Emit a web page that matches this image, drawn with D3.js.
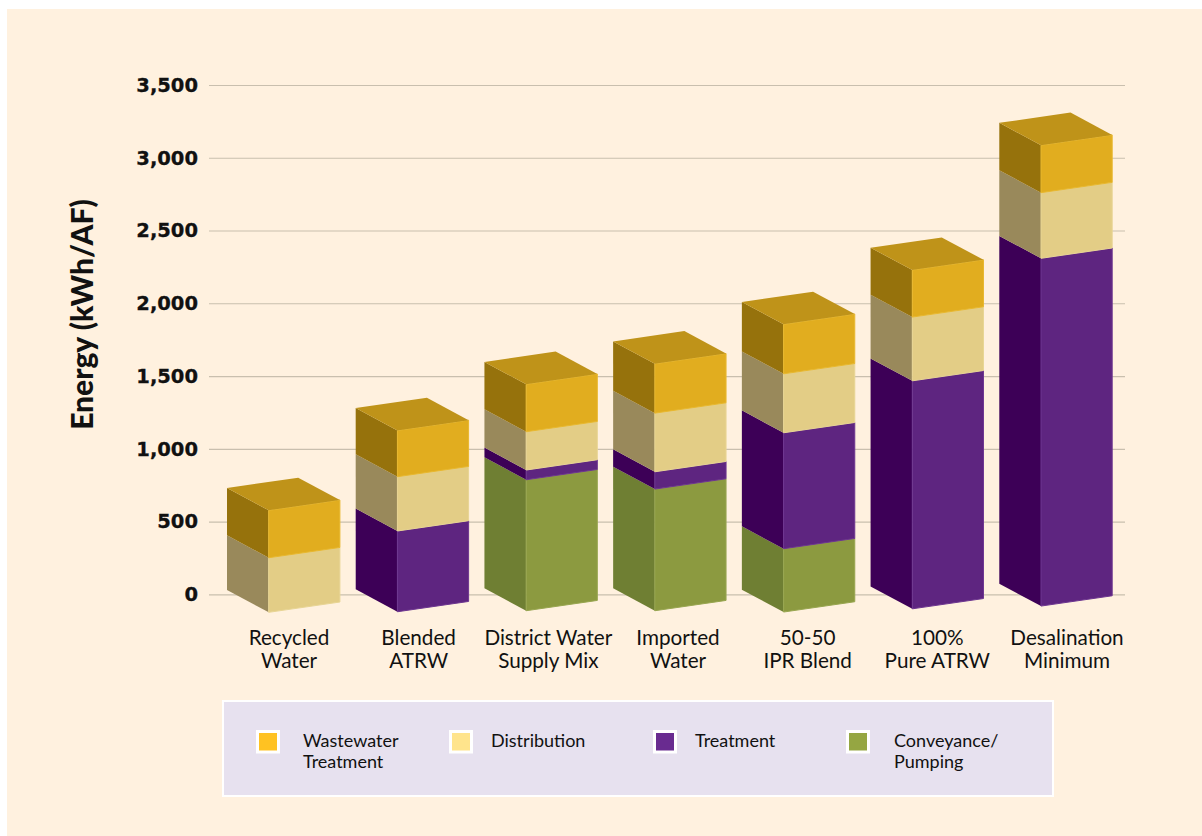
<!DOCTYPE html>
<html lang="en">
<head>
	<title>Energy by water supply</title>
	<script src="https://d3js.org/d3.v7.min.js" charset="utf-8"></script>
	<style>
		html, body { margin: 0; padding: 0; background: #fff; }
		svg { display: block; }
		.tick text { font-family: "DejaVu Sans", sans-serif; font-weight: bold; font-size: 19.5px; fill: #111; stroke: #111; stroke-width: 0.3px; }
		.tick line { stroke: #c9bfae; stroke-width: 1.2px; }
		.label { font-family: Lato, sans-serif; font-size: 20.7px; fill: #111; }
		.legend-label { font-family: Lato, sans-serif; font-size: 18px; fill: #111; }
	</style>
</head>
<body>
	<script>

	var width = 1202,
		height = 836;

	// values, kWh/AF
	var categories = ["Recycled Water", "Blended ATRW", "District Water Supply Mix", "Imported Water", "50-50 IPR Blend", "100% Pure ATRW", "Desalination Minimum"];
	var categoryLines = [["Recycled", "Water"], ["Blended", "ATRW"], ["District Water", "Supply Mix"], ["Imported", "Water"], ["50-50", "IPR Blend"], ["100%", "Pure ATRW"], ["Desalination", "Minimum"]];
	var conveyance = [0, 0, 900, 836, 435, 0, 0];
	var treatment = [0, 555, 67, 119, 797, 1567, 2390];
	var distribution = [375, 373, 263, 403, 405, 438, 451];
	var wastewater = [326, 318, 326, 339, 340, 323, 326];
	// where the back edge of each column starts, it does not sit exactly on zero
	var baseValues = [30, 34, 41, 41, 32, 54, 73];
	var yTicks = [0, 500, 1000, 1500, 2000, 2500, 3000, 3500];

	var seriesKeys = ["Conveyance", "Treatment", "Distribution", "Wastewater"];
	var legendKeys = ["Wastewater", "Distribution", "Treatment", "Conveyance"];
	var legendLines = [["Wastewater", "Treatment"], ["Distribution"], ["Treatment"], ["Conveyance/", "Pumping"]];

	var frontColor = d3.scaleOrdinal().domain(seriesKeys).range(["#8c9a40", "#5e2580", "#e3cd86", "#e1ad1f"]);
	var edgeColor = d3.scaleOrdinal().domain(seriesKeys).range(["#98a650", "#6d3690", "#e8d594", "#e8b82f"]);
	var sideColor = d3.scaleOrdinal().domain(seriesKeys).range(["#6f7f33", "#3d0057", "#99895b", "#96720c"]);
	var topColor = "#bf9319";
	var legendColor = d3.scaleOrdinal().domain(legendKeys).range(["#ffc222", "#ffe48c", "#692b90", "#95a642"]);
	var legendX = d3.scaleOrdinal().domain(legendKeys).range([256, 449, 653, 846]);
	var legendTextX = d3.scaleOrdinal().domain(legendKeys).range([303, 491, 695, 894]);

	var x = d3.scalePoint().domain(categories).range([227, 999.3]);
	var xLabel = d3.scalePoint().domain(categories).range([289, 1067]);
	var y = d3.scaleLinear().domain([0, 3500]).range([594.3, 85]);

	// oblique box: depth runs down to the right, width runs up to the right
	var depthX = 41.7, depthY = 22.4,
		faceW = 71.2, faceH = -10.3;

	var line = d3.line().curve(d3.curveLinearClosed);

	var svg = d3.select("body")
		.append("svg")
		.attr("width", width)
		.attr("height", height);

	svg.append("rect")
		.attr("x", 7)
		.attr("y", 9)
		.attr("width", width - 7)
		.attr("height", height - 9)
		.attr("fill", "#fff1df");

	var axis = d3.axisLeft(y)
		.tickValues(yTicks)
		.tickFormat(d3.format(","))
		.tickSize(-916)
		.tickPadding(11);

	svg.append("g")
		.attr("transform", "translate(209,0)")
		.call(axis)
		.call(function(g) { g.select(".domain").remove(); });

	svg.append("text")
		.attr("transform", "translate(93,314.5) rotate(-90)")
		.attr("text-anchor", "middle")
		.style("font-family", "Lato, sans-serif")
		.style("font-weight", 900)
		.style("font-size", "30px")
		.attr("fill", "#111")
		.text("Energy (kWh/AF)");

	var table = categories.map(function(c, i) {
		return { Category: c, Conveyance: conveyance[i], Treatment: treatment[i], Distribution: distribution[i], Wastewater: wastewater[i], base: baseValues[i] };
	});

	var stacked = d3.stack().keys(seriesKeys)(table);

	var bars = svg.append("g").attr("class", "bars");

	stacked.forEach(function(layer) {
		layer.forEach(function(d) {
			if (d[1] === d[0]) return;
			var cat = d.data;
			var x0 = x(cat.Category);
			var yLow = y(d[0] + cat.base);
			var yHigh = y(d[1] + cat.base);

			// left side
			bars.append("path")
				.attr("d", line([[x0, yHigh], [x0 + depthX, yHigh + depthY], [x0 + depthX, yLow + depthY], [x0, yLow]]))
				.attr("fill", sideColor(layer.key));

			// front
			bars.append("path")
				.attr("d", line([[x0 + depthX, yHigh + depthY], [x0 + depthX + faceW, yHigh + depthY + faceH], [x0 + depthX + faceW, yLow + depthY + faceH], [x0 + depthX, yLow + depthY]]))
				.attr("fill", frontColor(layer.key))
				.attr("stroke", edgeColor(layer.key))
				.attr("stroke-width", 1);

			// lid only on the last layer
			if (layer.key === "Wastewater") {
				bars.append("path")
					.attr("d", line([[x0, yHigh], [x0 + faceW, yHigh + faceH], [x0 + depthX + faceW, yHigh + depthY + faceH], [x0 + depthX, yHigh + depthY]]))
					.attr("fill", topColor);
			}
		});
	});

	svg.append("g").selectAll("text")
		.data(categories)
		.enter().append("text")
		.attr("class", "label")
		.attr("text-anchor", "middle")
		.attr("y", 645)
		.each(function(d, i) {
			d3.select(this).selectAll("tspan")
				.data(categoryLines[i])
				.enter().append("tspan")
				.attr("x", xLabel(d))
				.attr("dy", function(t, j) { return j ? 22.5 : 0; })
				.text(function(t) { return t; });
		});

	// legend
	svg.append("rect")
		.attr("x", 223)
		.attr("y", 701)
		.attr("width", 830)
		.attr("height", 95)
		.attr("fill", "#e7e1ef")
		.attr("stroke", "#fff")
		.attr("stroke-width", 2);

	var legend = svg.append("g").selectAll("g")
		.data(legendKeys)
		.enter().append("g");

	legend.append("rect")
		.attr("x", function(d) { return legendX(d) + 1.5; })
		.attr("y", 731.5)
		.attr("width", 21)
		.attr("height", 20.5)
		.attr("fill", function(d) { return legendColor(d); })
		.attr("stroke", "#fff")
		.attr("stroke-width", 3);

	legend.append("text")
		.attr("class", "legend-label")
		.attr("y", 747)
		.each(function(d, i) {
			d3.select(this).selectAll("tspan")
				.data(legendLines[i])
				.enter().append("tspan")
				.attr("x", legendTextX(d))
				.attr("dy", function(t, j) { return j ? 21 : 0; })
				.text(function(t) { return t; });
		});

	</script>
</body>
</html>
